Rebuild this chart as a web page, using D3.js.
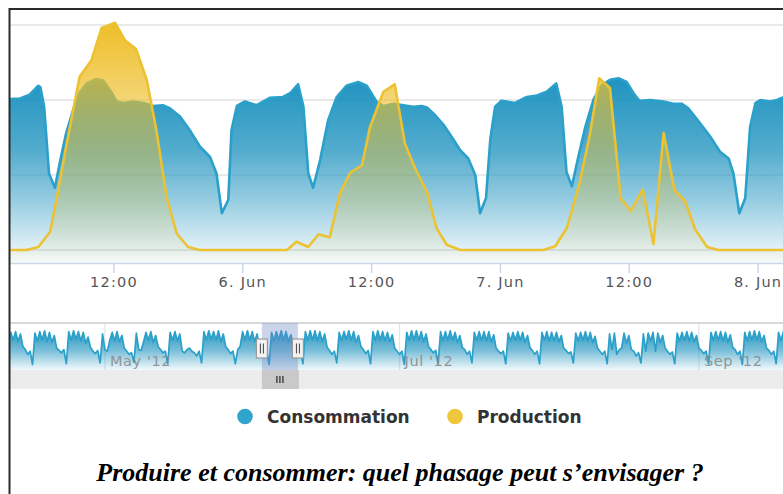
<!DOCTYPE html>
<html><head><meta charset="utf-8">
<script src="https://cdn.jsdelivr.net/npm/d3@7"></script>
<style>html,body{margin:0;padding:0;background:#fff;overflow:hidden}svg{display:block}</style>
</head><body>
<svg id="c" width="783" height="494"></svg>
<script>
// ---------------- DATA ----------------
const seriesNames = ["Consommation", "Production"];
const baseDate = "2012-06-05T00:00:00";           // hours below are counted from this instant
const consHours = [2.0,3.3,4.2,5.0,5.2,5.55,6.0,6.55,7.0,7.6,8.25,8.9,9.5,10.4,11.05,11.7,12.3,12.9,13.85,14.8,15.7,16.6,17.25,18.2,19.1,20.05,21.0,21.6,22.1,22.7,23.0,23.5,
  24.25,25.35,26.6,27.8,28.45,29.2,29.7,30.15,30.6,31.25,32.0,32.8,33.7,34.8,35.6,36.5,37.15,38.1,39.0,39.95,40.7,41.2,41.95,42.75,43.5,44.3,45.05,45.7,46.15,46.7,47.1,47.55,
  48.15,49.4,50.5,51.45,52.35,53.25,53.75,54.2,54.7,55.3,55.95,56.7,57.5,58.25,59.05,59.8,60.45,61.0,62.0,63.25,64.15,64.95,65.55,66.65,67.6,68.5,69.3,69.75,70.3,70.85,71.3,71.8,72.25,73.2,73.8,74.6];
const consValues = [2.01,2.02,2.07,2.19,2.17,1.91,1.02,0.83,1.16,1.56,1.87,2.11,2.22,2.28,2.26,2.13,1.98,1.96,1.98,1.96,1.92,1.93,1.89,1.78,1.6,1.38,1.24,1.02,0.49,0.67,1.6,1.92,
  1.98,1.93,2.03,2.04,2.09,2.21,1.91,1.02,0.83,1.2,1.73,2.04,2.19,2.24,2.19,1.98,1.92,1.95,1.93,1.91,1.92,1.9,1.8,1.67,1.51,1.33,1.22,1.0,0.49,0.69,1.47,1.91,
  1.99,1.96,2.04,2.06,2.11,2.22,1.91,1.04,0.85,1.24,1.64,2.0,2.2,2.27,2.29,2.24,2.09,1.99,2.0,1.98,1.95,1.95,1.89,1.69,1.51,1.31,1.22,1.02,0.49,0.69,1.64,1.96,2.0,1.98,2.0,2.05];
const prodHours = [2.0,3.9,5.0,6.1,6.7,7.6,8.85,9.95,10.9,12.15,13.05,14.1,15.1,16.0,16.95,17.9,18.95,20.05,
  28.15,29.05,30.15,31.1,32.15,33.1,34.05,35.15,35.9,37.15,38.2,39.15,40.1,41.2,42.1,43.05,44.3,
  52.05,53.15,54.25,55.45,56.4,57.25,58.25,59.25,60.2,61.3,62.3,63.25,64.25,65.25,66.2,67.3,68.35,74.6];
const prodValues = [0,0,0.04,0.24,0.67,1.38,2.31,2.53,2.96,3.03,2.8,2.68,2.27,1.6,0.71,0.22,0.04,0,
  0,0.11,0.04,0.21,0.17,0.76,1.03,1.13,1.64,2.11,2.21,1.42,1.09,0.78,0.29,0.07,0,
  0,0.05,0.3,0.91,1.56,2.29,2.16,0.69,0.52,0.81,0.08,1.56,0.8,0.65,0.27,0.04,0,0];
const yTicks = [0, 1, 2, 3];
const viewRange = ["2012-06-05T02:22:00", "2012-06-08T02:22:00"];

// navigator (overview of the whole period), two readings per day (00:00 and 12:00), one row per week starting Monday
const navStart = "2012-04-09T00:00:00";
const navRange = ["2012-04-11T08:00:00", "2012-09-18T10:00:00"];
const navSelection = ["2012-06-02T12:00:00", "2012-06-09T23:00:00"];
const navWeeks = [
  [0.5,2.4,1.9,2.45,1.85,2.4,1.9,2.45,1.8,2.3,1.5,1.3,1.0,1.2],
  [0.35,2.35,1.85,2.45,1.9,2.5,1.8,2.4,1.75,2.2,1.4,1.25,1.1,1.3],
  [0.4,2.45,1.9,2.5,1.95,2.45,1.85,2.4,1.7,2.1,1.45,1.2,1.05,1.25],
  [0.45,2.3,1.3,1.2,1.9,2.4,1.85,2.45,1.8,2.2,1.4,1.2,1.0,1.1],
  [0.5,2.35,1.3,1.25,1.8,2.4,1.9,2.45,1.75,2.2,1.5,1.3,1.1,1.2],
  [0.4,2.4,1.9,2.45,1.85,2.3,1.2,1.1,1.3,1.4,1.2,1.1,0.9,1.2],
  [0.45,2.45,1.9,2.5,1.95,2.45,1.9,2.5,1.8,2.3,1.5,1.3,1.05,1.2],
  [0.4,1.3,1.5,2.45,1.9,2.5,1.9,2.45,1.8,2.3,1.45,1.3,1.0,1.2],
  [0.35,2.4,1.85,2.45,1.9,2.5,1.9,2.45,1.8,2.25,1.5,1.3,1.1,1.25],
  [0.4,2.45,1.9,2.5,1.9,2.5,1.85,2.45,1.8,2.3,1.45,1.25,1.0,1.2],
  [0.45,2.4,1.9,2.45,1.95,2.5,1.9,2.45,1.75,2.2,1.5,1.3,1.05,1.25],
  [0.4,2.45,1.9,2.5,1.9,2.45,1.85,2.4,1.8,2.25,1.4,1.2,1.0,1.2],
  [0.35,2.4,1.9,2.5,1.9,2.5,1.9,2.45,1.8,2.3,1.5,1.3,1.1,1.25],
  [0.4,2.45,1.85,2.45,1.9,2.5,1.9,2.4,1.75,2.2,1.45,1.3,1.0,1.2],
  [0.45,2.4,1.9,2.45,1.9,2.45,1.85,2.45,1.8,2.25,1.4,1.2,1.05,1.2],
  [0.4,2.35,1.85,2.4,1.9,2.45,1.9,2.4,1.75,2.2,1.45,1.25,1.0,1.2],
  [0.4,2.4,1.9,2.45,1.85,2.4,1.85,2.4,1.8,2.2,1.4,1.25,1.05,1.15],
  [0.45,2.35,1.85,2.4,1.9,2.45,1.85,2.4,1.75,2.15,1.4,1.2,1.0,1.2],
  [0.4,2.3,1.3,2.35,1.0,1.3,1.4,2.35,1.7,2.2,1.3,1.2,0.9,1.1],
  [0.45,2.3,1.2,2.35,1.85,2.4,1.2,2.35,1.75,2.2,1.4,1.2,1.0,1.15],
  [0.4,2.35,1.85,2.4,1.9,2.45,1.85,2.4,1.8,2.2,1.4,1.25,1.05,1.2],
  [0.4,2.4,1.9,2.45,1.9,2.45,1.85,2.4,1.75,2.25,1.45,1.3,1.0,1.2],
  [0.35,2.4,1.85,2.45,1.9,2.5,1.9,2.45,1.8,2.2,1.4,1.25,1.0,1.2],
  [0.4,2.4,1.9,2.45,1.9,2.4,1.85,2.4,1.8,2.2,1.4,1.2,1.0,1.2]
];
const navYDomain = [0, 3];
const captionText = "Produire et consommer: quel phasage peut s’envisager ?";

// ---------------- STYLE / LAYOUT ----------------
const colors = { cons: "#1f93bf", consLine: "#2aa0ca", prod: "#eebe28", prodLine: "#ecc233",
  legendCons: "#2fa4cc", legendProd: "#f0c63c" };
const L = { left: 10, right: 783, top: 25, zeroY: 250, bottom: 263,
  navTop: 323, navBottom: 370, scrollBottom: 389 };

const svg = d3.select("#c");
const defs = svg.append("defs");
const base = new Date(baseDate);
const toDate = h => new Date(base.getTime() + h * 3600e3);

const cons = consHours.map((h, i) => ({ t: toDate(h), v: consValues[i] }));
const prod = prodHours.map((h, i) => ({ t: toDate(h), v: prodValues[i] }));

const x = d3.scaleTime().domain(viewRange.map(d => new Date(d))).range([L.left, L.right]);
const y = d3.scaleLinear().domain([yTicks[0], yTicks[yTicks.length - 1]]).range([L.zeroY, L.top]);

function grad(id, color, yTop, yBot, stops) {
  const g = defs.append("linearGradient").attr("id", id).attr("gradientUnits", "userSpaceOnUse")
    .attr("x1", 0).attr("x2", 0).attr("y1", yTop).attr("y2", yBot);
  stops.forEach(([o, a]) => g.append("stop").attr("offset", o).attr("stop-color", color).attr("stop-opacity", a));
}
grad("gCons", colors.cons, y(d3.max(consValues)), L.bottom, [[0, 1], [0.39, 0.77], [0.66, 0.47], [0.84, 0.24], [1, 0.03]]);
grad("gProd", colors.prod, y(d3.max(prodValues)), L.bottom, [[0, 1], [0.4, 0.55], [1, 0.02]]);

defs.append("clipPath").attr("id", "clipMain").append("rect")
  .attr("x", L.left).attr("y", 0).attr("width", L.right - L.left).attr("height", L.bottom);
defs.append("clipPath").attr("id", "clipNav").append("rect")
  .attr("x", L.left).attr("y", L.navTop).attr("width", L.right - L.left).attr("height", L.navBottom - L.navTop);

// grid
svg.append("g").selectAll("line").data(yTicks).join("line")
  .attr("x1", L.left).attr("x2", L.right).attr("y1", d => y(d)).attr("y2", d => y(d))
  .attr("stroke", "#e2e2e2").attr("stroke-width", 1.3);

const plot = svg.append("g").attr("clip-path", "url(#clipMain)");
const area = d3.area().x(d => x(d.t)).y0(L.bottom).y1(d => y(d.v));
const line = d3.line().x(d => x(d.t)).y(d => y(d.v));

plot.append("path").datum(cons).attr("d", area).attr("fill", "url(#gCons)");
plot.append("path").datum(cons).attr("d", line).attr("fill", "none").attr("stroke", colors.consLine)
  .attr("stroke-width", 2.6).attr("stroke-linejoin", "round");
plot.append("path").datum(prod).attr("d", area).attr("fill", "url(#gProd)");
plot.append("path").datum(prod).attr("d", line).attr("fill", "none").attr("stroke", colors.prodLine)
  .attr("stroke-width", 2.6).attr("stroke-linejoin", "round");

// x axis
const tickVals = d3.timeHour.every(12).range(x.domain()[0], x.domain()[1]);
const fmtDay = d3.timeFormat("%-d. %b"), fmtHour = d3.timeFormat("%H:%M");
const xAxis = d3.axisBottom(x).tickValues(tickVals).tickSize(10).tickSizeOuter(0).tickPadding(4)
  .tickFormat(d => d.getHours() === 0 ? fmtDay(d) : fmtHour(d));
const ax = svg.append("g").attr("transform", `translate(0,${L.bottom})`).call(xAxis);
ax.select(".domain").attr("stroke", "#ccd6eb").attr("stroke-width", 1.5);
ax.selectAll(".tick line").attr("stroke", "#ccd6eb").attr("stroke-width", 1.5);
ax.selectAll(".tick text").attr("fill", "#555").style("font-family", "'DejaVu Sans', Verdana, sans-serif")
  .style("font-size", "14.5px").style("letter-spacing", "1.2px");

// ---------------- NAVIGATOR ----------------
const navFlat = navWeeks.flat();
const navStartDate = new Date(navStart);
const navData = navFlat.map((v, i) => ({ t: d3.timeHour.offset(navStartDate, i * 12), v }));
const nx = d3.scaleTime().domain(navRange.map(d => new Date(d))).range([L.left, L.right]);
const ny = d3.scaleLinear().domain(navYDomain).range([L.navBottom, L.navTop]);
grad("gNav", colors.cons, ny(d3.max(navFlat)), L.navBottom, [[0, 0.95], [0.5, 0.6], [1, 0.06]]);

const monthTicks = nx.ticks(d3.timeMonth.every(2));
svg.append("g").selectAll("line").data(monthTicks).join("line")
  .attr("x1", d => nx(d)).attr("x2", d => nx(d)).attr("y1", L.navTop).attr("y2", L.navBottom)
  .attr("stroke", "#e3e3e3").attr("stroke-width", 1.2);

const nav = svg.append("g").attr("clip-path", "url(#clipNav)");
nav.append("path").datum(navData).attr("d", d3.area().x(d => nx(d.t)).y0(L.navBottom).y1(d => ny(d.v)))
  .attr("fill", "url(#gNav)");
nav.append("path").datum(navData).attr("d", d3.line().x(d => nx(d.t)).y(d => ny(d.v)))
  .attr("fill", "none").attr("stroke", colors.consLine).attr("stroke-width", 1.7).attr("stroke-linejoin", "round");

const fmtMonth = d3.timeFormat("%b '%y");
svg.append("g").selectAll("text").data(monthTicks).join("text")
  .attr("x", d => nx(d) + 5).attr("y", L.navBottom - 4)
  .attr("fill", "#8a8a8a").attr("fill-opacity", 0.9)
  .style("font-family", "'DejaVu Sans', Verdana, sans-serif").style("font-size", "14.5px").style("letter-spacing", "0.6px")
  .text(fmtMonth);

svg.append("line").attr("x1", L.left).attr("x2", L.right).attr("y1", L.navTop).attr("y2", L.navTop)
  .attr("stroke", "#d8d8d8").attr("stroke-width", 2);

// scrollbar
svg.append("rect").attr("x", L.left).attr("y", L.navBottom).attr("width", L.right - L.left)
  .attr("height", L.scrollBottom - L.navBottom).attr("fill", "#ececec");
const s0 = nx(new Date(navSelection[0])), s1 = nx(new Date(navSelection[1]));
svg.append("rect").attr("x", s0).attr("y", L.navTop).attr("width", s1 - s0).attr("height", L.navBottom - L.navTop)
  .attr("fill", "rgba(102,133,194,0.35)");
svg.append("rect").attr("x", s0).attr("y", L.navBottom).attr("width", s1 - s0 + 1).attr("height", L.scrollBottom - L.navBottom)
  .attr("fill", "#c9c9c9");
const sc = (s0 + s1) / 2, sm = (L.navBottom + L.scrollBottom) / 2;
[-3, 0, 3].forEach(o => svg.append("line").attr("x1", sc + o).attr("x2", sc + o).attr("y1", sm - 3.5).attr("y2", sm + 3.5)
  .attr("stroke", "#333").attr("stroke-width", 1.3));
const hMid = (L.navTop + L.navBottom) / 2 + 2;
[s0, s1].forEach(hx => {
  const g = svg.append("g");
  g.append("rect").attr("x", hx - 5.5).attr("y", hMid - 9.5).attr("width", 11).attr("height", 19)
    .attr("fill", "#f2f2f2").attr("stroke", "#9a9a9a").attr("stroke-width", 1.2);
  [-1.5, 1.5].forEach(o => g.append("line").attr("x1", hx + o).attr("x2", hx + o).attr("y1", hMid - 5).attr("y2", hMid + 5)
    .attr("stroke", "#444").attr("stroke-width", 1));
});

// ---------------- LEGEND ----------------
const legendItems = [
  { name: seriesNames[0], color: colors.legendCons, cx: 245, tx: 267 },
  { name: seriesNames[1], color: colors.legendProd, cx: 455, tx: 477 }
];
const lg = svg.append("g");
legendItems.forEach(it => {
  lg.append("circle").attr("cx", it.cx).attr("cy", 416.5).attr("r", 7.8).attr("fill", it.color);
  lg.append("text").attr("x", it.tx).attr("y", 422.5).attr("fill", "#333")
    .style("font-family", "'DejaVu Sans', Verdana, sans-serif").style("font-weight", "bold").style("font-size", "17px")
    .text(it.name);
});

// caption
svg.append("text").attr("x", 400).attr("y", 481).attr("text-anchor", "middle").attr("fill", "#000")
  .style("font-family", "'Liberation Serif', 'Times New Roman', serif").style("font-style", "italic")
  .style("font-weight", "bold").style("font-size", "26px").text(captionText);

// frame
svg.append("line").attr("x1", 9).attr("x2", 783).attr("y1", 9).attr("y2", 9).attr("stroke", "#2a2a2a").attr("stroke-width", 2);
svg.append("line").attr("x1", 9.5).attr("x2", 9.5).attr("y1", 8).attr("y2", 494).attr("stroke", "#2a2a2a").attr("stroke-width", 2);
</script>
</body></html>
